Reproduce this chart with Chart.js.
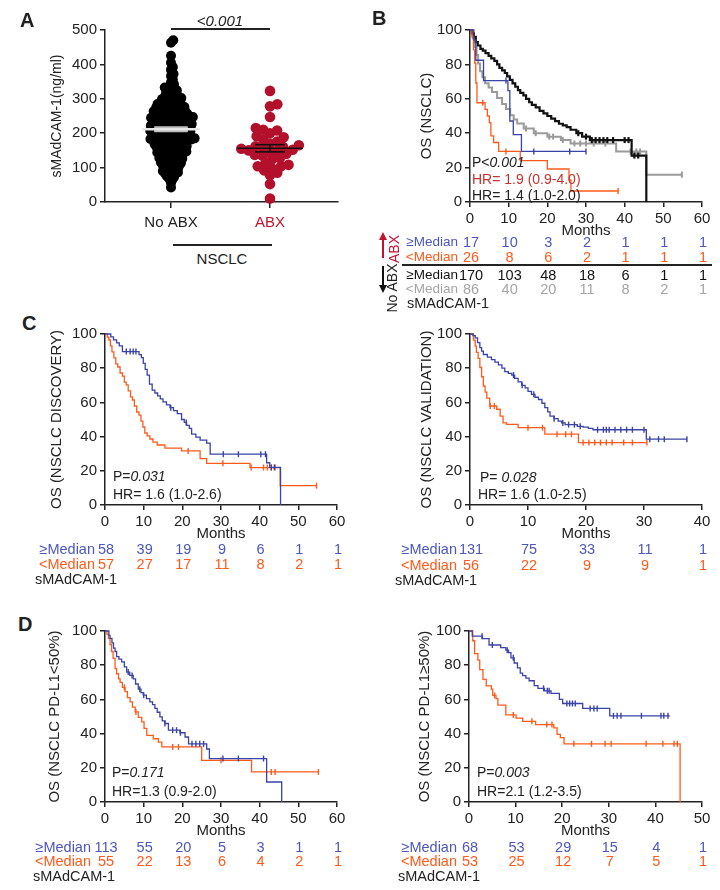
<!DOCTYPE html>
<html><head><meta charset="utf-8">
<script src="https://cdn.jsdelivr.net/npm/chart.js@4.4.0/dist/chart.umd.min.js"></script>
<style>
html,body{margin:0;padding:0;background:#fff;}
#root{position:relative;width:720px;height:890px;overflow:hidden;font-family:"Liberation Sans",Arial,sans-serif;background:#fff;}
canvas{position:absolute;}
.t{position:absolute;white-space:nowrap;line-height:1;color:#222;}
</style></head><body><div id="root"></div>
<script>
// ---------------- DATA ----------------
// Panel A: sMAdCAM-1 (ng/ml)
const A_categories = ['No ABX', 'ABX'];
const A_noABX = [470,463,425,405,392,384,372,366,356,348,342,338,333,330,327,325,322,
318,316,314,312,310,308,306,304,302,300,
299,298,296,295,293,291,290,288,287,285,284,283,282,281,
279,278,277,276,275,274,273,272,271,270,269,268,267,266,265,264,263,262,261,260,
259,258,258,257,256,255,254,253,252,251,250,250,249,248,247,246,245,245,244,243,242,241,241,240,
239,239,238,237,236,235,234,234,233,232,231,230,230,229,228,227,226,225,225,224,223,222,222,221,220,220,
219,218,218,217,216,215,214,214,213,212,211,210,210,209,208,207,206,205,205,204,203,202,202,201,200,200,
199,198,197,196,195,194,193,192,191,190,190,189,188,187,186,185,184,183,182,182,181,180,180,180,
179,178,177,176,175,174,173,172,171,170,169,168,167,166,165,164,163,162,161,160,160,160,
159,157,156,154,153,151,150,149,148,147,146,145,144,143,142,141,140,140,
139,137,135,133,131,130,128,127,126,125,124,122,121,120,
118,116,115,113,112,110,108,107,105,104,102,100,
98,96,94,92,90,88,86,85,83,81,78,75,72,68,64,55,42];
const A_ABX = [323,284,278,247,215,210,208,200,191,188,181,176,170,165,162,160,158,155,152,150,148,145,140,137,135,128,125,115,108,104,104,100,92,85,78,52,10];
const A_yTicks = [0,100,200,300,400,500];

// Panel B: OS (NSCLC)
const B_noHi_t = [0,0.5,1,1.5,2,2.7,3.3,4,4.8,5.5,6.3,7,7.6,8.3,9,9.6,10.3,11,11.7,12.4,13,13.8,14.5,15.3,16,17,18,19,20,21,22,23,24,25,26,27.5,29,31,41.8,45.6];
const B_noHi_s = [100,98,96,93,91,89,88,86.5,85,83.5,82,80,78,76.5,75,73,71,69,67,65,63.5,62,60,58,56.5,55,53,51.5,50,48.5,47,45.5,44.5,43.5,42,40,38,36,27,0];
const B_noHi_cens = [28,30,31.5,32.5,33.5,34.5,35.5,37,40,41,42.5,43.5];
const B_noLo_t = [0,0.7,1.2,1.7,2.1,2.6,3.2,3.9,4.8,5.7,7,8.3,9.3,10.4,11.3,12.2,13.9,16.5,20,23.5,26,37.8,45.6];
const B_noLo_s = [100,95,90,85.5,80.5,76,72.5,69,66.5,64,60.5,57,54,50.5,48,45.6,42.7,40,38,36,34,29.4,15.9];
const B_noLo_end = 54.8;
const B_noLo_cens = [14.5,17,20.5,21.5,24,27,28.5,30,32,35,41.5,43,44,54.8];
const B_abxHi_t = [0,1.0,1.5,3.5,9.8,10.3,11.2,13.3];
const B_abxHi_s = [100,94.1,82.4,70.6,64.7,47.1,39.2,29.4];
const B_abxHi_end = 30;
const B_abxHi_cens = [9.3,16.5,25.8,30];
const B_abxLo_t = [0,0.5,0.9,1.2,1.5,1.8,3.9,4.5,5.0,5.4,6.1,7.4,13.0,20.0,25.6,26.1];
const B_abxLo_s = [100,96.2,88.5,80.8,69.2,57.7,53.8,50,46.2,38.5,34.6,29.4,24,19.2,12.8,6.4];
const B_abxLo_end = 38.3;
const B_abxLo_cens = [3.3,9.3,38.3];
const B_months = [0,10,20,30,40,50,60];
const B_risk_abxHi = [17,10,3,2,1,1,1];
const B_risk_abxLo = [26,8,6,2,1,1,1];
const B_risk_noHi = [170,103,48,18,6,1,1];
const B_risk_noLo = [86,40,20,11,8,2,1];

// Panel C (discovery)
const C1_hi_t = [0,1.5,2.2,3,3.7,4.5,8.8,9.4,9.9,10.4,10.9,11.5,12.2,12.9,13.6,14.3,15,15.9,16.8,17.7,18.7,19.8,20.5,21.1,21.8,22.4,23.5,24.6,26.3,27.2,41.8,42.6,45.4];
const C1_hi_s = [100,98.3,96.6,94.8,93.1,89.7,87.9,86.2,82.8,79.3,75.9,70.7,67.2,65.5,63.8,62.1,60.3,58.6,56.9,55.2,53.4,50,48.3,46.6,44.8,41.4,39.7,37.9,36.2,29.7,24.7,22,0];
const C1_hi_cens = [5.5,6.5,7.3,8,17,21,30.6,34.5,40.3,41.5,43,43.8];
const C1_lo_t = [0,0.6,1.0,1.4,1.8,2.3,2.8,3.3,3.9,4.5,5.0,5.5,6.0,6.6,7.1,7.6,8.2,8.8,9.3,9.8,10.3,10.9,11.6,12.4,13.5,15.5,19.8,24.6,26.3,37.5,45.3];
const C1_lo_s = [100,98.2,96.5,93,89.5,86,82.5,80.7,77.2,75.4,71.9,70.2,66.7,63.2,61.4,57.9,54.4,52.6,49.1,45.6,42.1,40.4,38.6,36.8,35.1,33.3,31.6,27.1,24.4,21.9,11.3];
const C1_lo_end = 54.7;
const C1_lo_cens = [21.5,30.5,37.8,41,42,43,44,54.7];
const C1_months = [0,10,20,30,40,50,60];
const C1_risk_hi = [58,39,19,9,6,1,1];
const C1_risk_lo = [57,27,17,11,8,2,1];

// Panel C (validation)
const C2_hi_t = [0,0.5,0.9,1.3,1.7,2.0,2.3,3.0,3.7,4.3,4.9,5.5,6.0,6.6,7.2,7.7,8.3,8.9,9.5,10.0,10.6,11.2,11.8,12.4,12.9,13.4,13.8,14.5,15.2,15.8,16.4,18.5,19.5,20.4,21.2,30.4];
const C2_hi_s = [100,99,97.7,95,92,90,88,86.5,85,83.5,82,80,78,77,76,74,72,70,68.5,66.5,64.7,63,61.7,59.5,57,54.5,52,50.5,49,48,47,46,45.5,44.8,44,38.5];
const C2_hi_end = 37.4;
const C2_hi_cens = [7.5,9,11,14.5,16,17,18,19,22,23,23.5,24,25,26,27,28,30,31,32.5,33.5,37.4];
const C2_lo_t = [0,0.6,0.9,1.1,1.4,1.7,2.0,2.3,2.6,2.9,3.4,4.6,5.2,5.7,6.3,8.3,12.9,18.7];
const C2_lo_s = [100,96.4,92.9,89.3,85.7,80.4,75,69.6,66,62.5,57.9,56,52,48,47.2,45.2,41.4,36.5];
const C2_lo_end = 30.5;
const C2_lo_cens = [3.5,4.2,10,12.5,15,16.5,17.5,19.5,20.5,21.5,22.5,23.5,24.5,26.5,28,30.5];
const C2_months = [0,10,20,30,40];
const C2_risk_hi = [131,75,33,11,1];
const C2_risk_lo = [56,22,9,9,1];

// Panel D (PD-L1 <50%)
const D1_hi_t = [0,1.0,1.3,1.8,2.2,2.6,3.0,3.6,4.3,5.0,5.6,6.4,7.3,7.9,8.6,9.3,9.9,10.7,11.6,12.3,12.9,13.5,14.2,14.8,15.5,16.4,19.4,20.7,21.6,26.3,27.0,41.8,45.7];
const D1_hi_s = [100,97.5,95.7,93,90,88,85,83.5,82,79,76,74,72,69,66,64,62.5,60.5,58.6,57,54.7,52.5,49.8,47.5,45.9,42,40.5,38,34,31,25.4,11.7,0];
const D1_hi_cens = [6,7,9,10,15.5,17.5,18.5,19.5,22.5,23.5,24.5,25.5,30.5,34.5,41];
const D1_lo_t = [0,0.5,0.9,1.3,1.7,2.1,2.6,3.0,3.5,3.9,4.5,5.2,5.8,6.5,7.1,7.8,8.6,9.5,10.1,10.8,12.5,13.8,14.7,25.0,37.9];
const D1_lo_s = [100,98.2,95.7,92,88,84,78,75,72,70,67,64.5,61,58.6,55.5,52.7,49.5,46.9,43,39,37,35,32.2,24.4,17.6];
const D1_lo_end = 55.2;
const D1_lo_cens = [5,8,17.5,19,30,43,44,55.2];
const D1_months = [0,10,20,30,40,50,60];
const D1_risk_hi = [113,55,20,5,3,1,1];
const D1_risk_lo = [55,22,13,6,4,2,1];

// Panel D (PD-L1 >=50%)
const D2_hi_t = [0,0.7,2.9,4.3,6.8,7.9,8.5,9.0,9.7,10.4,11.0,11.5,12.2,12.9,14.0,14.8,16.2,17.6,19.4,20.1,24.4,30.2];
const D2_hi_s = [100,97,95.5,91.8,90.3,88.8,87.3,84.3,81.3,78.4,75.4,73.9,72.4,70.9,68,66.5,65,63.5,60,57.6,54.7,50.4];
const D2_hi_end = 43.1;
const D2_hi_cens = [2.8,5,8.2,9.5,16,16.8,17.2,21,21.6,22.2,22.8,26,26.8,27.5,31,31.8,32.6,37,41.2,41.8,42.7];
const D2_lo_t = [0,0.8,1.2,1.9,2.3,3.0,3.7,4.8,5.1,5.8,6.2,7.9,10.1,11.5,14.3,18.2,18.9,19.6,20.4,45.3];
const D2_lo_s = [100,94.3,86.8,83,77.4,71.7,67.9,66,62.3,60.4,56.6,50.9,49,47.2,45.3,43.4,39.6,37.7,34,0];
const D2_lo_cens = [5.5,9.5,13.5,16.7,17.8,22.5,26.3,29.2,30.5,38,41.6,44,44.7];
const D2_months = [0,10,20,30,40,50];
const D2_risk_hi = [68,53,29,15,4,1];
const D2_risk_lo = [53,25,12,7,5,1];

// ---------------- STYLE ----------------
const FONT = '"Liberation Sans", Arial, sans-serif';
const BLUE = '#3a43a6', ORANGE = '#ff5a1a', GREY = '#9a9a9a', BLACK = '#111';
const BLUE_TXT = '#4c57bd', RED_DOT = '#b3102c', RED_TXT = '#c0142f', HR_RED = '#c8322e';
Chart.defaults.font.family = FONT;
Chart.defaults.color = '#222';
const root = document.getElementById('root');

function put(html, x, y, o = {}) {
  const d = document.createElement('div');
  d.className = 't';
  d.innerHTML = html;
  const ax = o.align === 'center' ? -50 : o.align === 'right' ? -100 : 0;
  d.style.left = x + 'px'; d.style.top = y + 'px';
  d.style.fontSize = (o.size || 14) + 'px';
  if (o.color) d.style.color = o.color;
  if (o.weight) d.style.fontWeight = o.weight;
  if (o.family) d.style.fontFamily = o.family;
  if (o.italic) d.style.fontStyle = 'italic';
  d.style.transform = `translate(${ax}%,-50%)` + (o.rotate ? ` rotate(${o.rotate}deg)` : '');
  root.appendChild(d);
  return d;
}
function hline(x1, x2, y, color = '#222', w = 1.3) {
  const d = document.createElement('div');
  d.style.cssText = `position:absolute;left:${x1}px;top:${y - w / 2}px;width:${x2 - x1}px;height:${w}px;background:${color};`;
  root.appendChild(d);
}
function makeCanvas(L, T, W, H) {
  const c = document.createElement('canvas');
  c.width = W; c.height = H;
  c.style.left = L + 'px'; c.style.top = T + 'px';
  c.style.width = W + 'px'; c.style.height = H + 'px';
  root.appendChild(c);
  return c;
}
const axisBase = () => ({
  border: { display: true, color: '#222', width: 1.5 },
  grid: { drawOnChartArea: false, drawTicks: true, tickLength: 5, color: '#222', lineWidth: 1.5 },
});

function stepData(t, s, end) {
  const n = Math.min(t.length, s.length);
  const pts = [];
  for (let i = 0; i < n; i++) pts.push({ x: t[i], y: s[i] });
  if (end !== undefined && end > t[n - 1]) pts.push({ x: end, y: s[n - 1] });
  return pts;
}
function survAt(t, s, x) {
  let v = 100;
  for (let i = 0; i < Math.min(t.length, s.length); i++) if (t[i] <= x) v = s[i];
  return v;
}

function km(box, xmax, title, curves) {
  const L = box.titleX - 9, T = box.plotT - 12, R = box.plotR + 16, B = box.plotB + 30;
  const c = makeCanvas(L, T, R - L, B - T);
  const datasets = [];
  curves.forEach(cv => {
    datasets.push({ data: stepData(cv.t, cv.s, cv.end), borderColor: cv.color, borderWidth: cv.w || 1.3,
      pointRadius: 0, stepped: 'before', fill: false, clip: 8, tension: 0 });
    datasets.push({ data: (cv.cens || []).map(x => ({ x, y: survAt(cv.t, cv.s, x) })), showLine: false,
      pointStyle: 'line', rotation: 90, pointRadius: 3, borderColor: cv.color, pointBorderColor: cv.color,
      pointBorderWidth: cv.w ? cv.w : 1.4, clip: 8 });
  });
  const chart = new Chart(c, {
    type: 'line', data: { datasets },
    options: {
      responsive: false, animation: false, events: [],
      layout: { padding: { left: 0, top: box.plotT - T, right: R - box.plotR, bottom: 0 } },
      plugins: { legend: { display: false }, tooltip: { enabled: false } },
      scales: {
        x: Object.assign(axisBase(), { type: 'linear', min: 0, max: xmax,
          ticks: { stepSize: 10, font: { size: 15 }, color: '#222', padding: 3, maxRotation: 0, autoSkip: false },
          afterFit: s => { s.height = B - box.plotB; } }),
        y: Object.assign(axisBase(), { type: 'linear', min: 0, max: 100,
          ticks: { stepSize: 20, font: { size: 15 }, color: '#222', padding: 3 },
          title: { display: true, text: title, font: { size: 15 }, color: '#222', padding: { top: 0, bottom: 0 } },
          afterFit: s => { s.width = box.plotL - L; } })
      }
    }
  });
  put('Months', (box.plotL + box.plotR) / 2, box.plotB + 27, { align: 'center', size: 15 });
  return { chart, L, T, px: v => L + chart.scales.x.getPixelForValue(v) };
}

function riskRow(k, months, vals, y, label, color, labelRight, lsize) {
  put(label, labelRight, y, { align: 'right', size: lsize || 14.5, color });
  months.forEach((m, i) => put(String(vals[i]), k.px(m) + 1, y, { align: 'center', size: 14.5, color }));
}

// ---------------- PANEL A ----------------
(function () {
  const box = { plotL: 105, plotT: 30, plotR: 338, plotB: 202, titleX: 58 };
  const PPX = 99;               // px per category unit
  const PXY = (box.plotB - box.plotT) / 500;
  const xmin = (box.plotL - 171) / PPX, xmax = (box.plotR - 171) / PPX;
  function swarm(vals, d) {
    const idx = vals.map((v, i) => i).sort((a, b) => vals[a] - vals[b]);
    const placed = [], out = new Array(vals.length);
    for (const i of idx) {
      const y = vals[i] * PXY;
      const near = placed.filter(p => Math.abs(p.y - y) < d);
      const cands = [0];
      near.forEach(p => { const dx = Math.sqrt(d * d - (p.y - y) ** 2); cands.push(p.x + dx, p.x - dx); });
      cands.sort((a, b) => Math.abs(a) - Math.abs(b));
      let best = 0;
      for (const c of cands) { if (near.every(p => (p.x - c) ** 2 + (p.y - y) ** 2 >= d * d - 1e-6)) { best = c; break; } }
      placed.push({ x: best, y }); out[i] = best;
    }
    return out;
  }
  function meanSem(a) {
    const m = a.reduce((s, v) => s + v, 0) / a.length;
    const sd = Math.sqrt(a.reduce((s, v) => s + (v - m) ** 2, 0) / (a.length - 1));
    return [m, sd / Math.sqrt(a.length)];
  }
  const offB = swarm(A_noABX, 3.3), offR = swarm(A_ABX, 7.6);
  const ptsB = A_noABX.map((v, i) => ({ x: 0 + offB[i] / PPX, y: v }));
  const ptsR = A_ABX.map((v, i) => ({ x: 1 + offR[i] / PPX, y: v }));
  const [mB, sB] = meanSem(A_noABX), [mR, sR] = meanSem(A_ABX);
  const seg = (x1, x2, y1, y2, color, w) => ({ data: [{ x: x1, y: y1 }, { x: x2, y: y2 }], showLine: true,
    borderColor: color, borderWidth: w, pointRadius: 0, clip: 8 });
  const L = box.titleX - 9, T = box.plotT - 12, R = box.plotR + 16, B = box.plotB + 40;
  const c = makeCanvas(L, T, R - L, B - T);
  new Chart(c, {
    type: 'scatter',
    data: { datasets: [
      seg(-0.29, 0.29, mB, mB, '#e6e6e6', 2.5),
      seg(-0.17, 0.17, mB + sB, mB + sB, '#bdbdbd', 2.5),
      seg(-0.17, 0.17, mB - sB, mB - sB, '#bdbdbd', 2.5),
      seg(0, 0, mB - sB, mB + sB, '#bdbdbd', 2),
      seg(1 - 0.33, 1 + 0.33, mR, mR, '#111', 1.6),
      seg(1 - 0.15, 1 + 0.15, mR + sR, mR + sR, '#111', 1.6),
      seg(1 - 0.15, 1 + 0.15, mR - sR, mR - sR, '#111', 1.6),
      seg(1, 1, mR - sR, mR + sR, '#111', 1.6),
      { data: ptsR, pointRadius: 5.3, backgroundColor: RED_DOT, borderWidth: 0, clip: 8 },
      { data: ptsB, pointRadius: 5, backgroundColor: '#000', borderWidth: 0, clip: 8 },
    ] },
    options: {
      responsive: false, animation: false, events: [],
      layout: { padding: { left: 0, top: box.plotT - T, right: R - box.plotR, bottom: 0 } },
      plugins: { legend: { display: false }, tooltip: { enabled: false } },
      scales: {
        x: Object.assign(axisBase(), { type: 'linear', min: xmin, max: xmax,
          grid: { drawOnChartArea: false, drawTicks: true, tickLength: 6, color: '#222', lineWidth: 1.5 },
          afterBuildTicks: s => { s.ticks = A_categories.map((c, i) => ({ value: i })); },
          ticks: { font: { size: 15 }, padding: 6, maxRotation: 0, autoSkip: false,
            callback: v => A_categories[v],
            color: ctx => (ctx.tick && ctx.tick.value === 1) ? RED_TXT : '#222' },
          afterFit: s => { s.height = B - box.plotB; } }),
        y: Object.assign(axisBase(), { type: 'linear', min: 0, max: 500,
          afterBuildTicks: s => { s.ticks = A_yTicks.map(v => ({ value: v })); },
          ticks: { font: { size: 15 }, color: '#222', padding: 3 },
          title: { display: true, text: 'sMAdCAM-1(ng/ml)', font: { size: 14 }, color: '#222', padding: { top: 0, bottom: 0 } },
          afterFit: s => { s.width = box.plotL - L; } })
      }
    }
  });
  hline(171, 270, 29, '#222', 1.3);
  put('&lt;0.001', 220, 20, { align: 'center', size: 15, italic: true });
  hline(173, 272, 245, '#222', 1.3);
  put('NSCLC', 222, 258, { align: 'center', size: 15 });
})();

// ---------------- PANEL B ----------------
(function () {
  const box = { plotL: 470, plotT: 30, plotR: 702, plotB: 202, titleX: 427 };
  const k = km(box, 60, 'OS (NSCLC)', [
    { t: B_abxHi_t, s: B_abxHi_s, end: B_abxHi_end, cens: B_abxHi_cens, color: BLUE },
    { t: B_abxLo_t, s: B_abxLo_s, end: B_abxLo_end, cens: B_abxLo_cens, color: ORANGE },
    { t: B_noHi_t, s: B_noHi_s, cens: B_noHi_cens, color: BLACK, w: 2.2 },
    { t: B_noLo_t, s: B_noLo_s, end: B_noLo_end, cens: B_noLo_cens, color: GREY, w: 2 },
  ]);
  put('P&lt;<i>0.001</i>', 472, 162, { size: 14 });
  put('HR= 1.9 (0.9-4.0)', 472, 179, { size: 14, color: HR_RED });
  put('HR= 1.4 (1.0-2.0)', 472, 195, { size: 14 });
  const lab = 458;
  riskRow(k, B_months, B_risk_abxHi, 242, '≥Median', BLUE_TXT, lab, 13.5);
  riskRow(k, B_months, B_risk_abxLo, 257, '&lt;Median', ORANGE, lab, 13.5);
  hline(402, 712, 265, '#222', 1.2);
  riskRow(k, B_months, B_risk_noHi, 275, '≥Median', '#111', lab, 13.5);
  riskRow(k, B_months, B_risk_noLo, 289, '&lt;Median', '#a5a5a5', lab, 13.5);
  put('sMAdCAM-1', 407, 303, { size: 14.5 });
  // arrows
  const svg = document.createElementNS('http://www.w3.org/2000/svg', 'svg');
  svg.setAttribute('width', 30); svg.setAttribute('height', 80);
  svg.style.cssText = 'position:absolute;left:370px;top:228px;';
  svg.innerHTML = '<line x1="13" y1="30" x2="13" y2="10" stroke="#c0142f" stroke-width="2"/>' +
    '<polygon points="13,4 9,12 17,12" fill="#c0142f"/>' +
    '<line x1="13" y1="38" x2="13" y2="58" stroke="#111" stroke-width="2"/>' +
    '<polygon points="13,65 9,57 17,57" fill="#111"/>';
  root.appendChild(svg);
  put('ABX', 394, 249, { align: 'center', size: 14, color: RED_TXT, rotate: -90 });
  put('No ABX', 392, 288, { align: 'center', size: 14, rotate: -90 });
})();

// ---------------- PANEL C ----------------
(function () {
  const box = { plotL: 105, plotT: 334, plotR: 337, plotB: 505, titleX: 57 };
  const k = km(box, 60, 'OS (NSCLC DISCOVERY)', [
    { t: C1_hi_t, s: C1_hi_s, cens: C1_hi_cens, color: BLUE },
    { t: C1_lo_t, s: C1_lo_s, end: C1_lo_end, cens: C1_lo_cens, color: ORANGE },
  ]);
  put('P=<i>0.031</i>', 113, 476, { size: 14 });
  put('HR= 1.6 (1.0-2.6)', 113, 494, { size: 14 });
  riskRow(k, C1_months, C1_risk_hi, 549, '≥Median', BLUE_TXT, 95);
  riskRow(k, C1_months, C1_risk_lo, 564, '&lt;Median', ORANGE, 95);
  put('sMAdCAM-1', 35, 579, { size: 14.5 });
})();
(function () {
  const box = { plotL: 470, plotT: 334, plotR: 702, plotB: 505, titleX: 427 };
  const k = km(box, 40, 'OS (NSCLC VALIDATION)', [
    { t: C2_hi_t, s: C2_hi_s, end: C2_hi_end, cens: C2_hi_cens, color: BLUE },
    { t: C2_lo_t, s: C2_lo_s, end: C2_lo_end, cens: C2_lo_cens, color: ORANGE },
  ]);
  put('P= <i>0.028</i>', 480, 477, { size: 14 });
  put('HR= 1.6 (1.0-2.5)', 478, 494, { size: 14 });
  riskRow(k, C2_months, C2_risk_hi, 549, '≥Median', BLUE_TXT, 457);
  riskRow(k, C2_months, C2_risk_lo, 565, '&lt;Median', ORANGE, 457);
  put('sMAdCAM-1', 395, 580, { size: 14.5 });
})();

// ---------------- PANEL D ----------------
(function () {
  const box = { plotL: 105, plotT: 631, plotR: 337, plotB: 802, titleX: 55 };
  const k = km(box, 60, 'OS (NSCLC PD-L1<50%)', [
    { t: D1_hi_t, s: D1_hi_s, cens: D1_hi_cens, color: BLUE },
    { t: D1_lo_t, s: D1_lo_s, end: D1_lo_end, cens: D1_lo_cens, color: ORANGE },
  ]);
  put('P=<i>0.171</i>', 112, 772, { size: 14 });
  put('HR=1.3 (0.9-2.0)', 112, 791, { size: 14 });
  riskRow(k, D1_months, D1_risk_hi, 847, '≥Median', BLUE_TXT, 91);
  riskRow(k, D1_months, D1_risk_lo, 861, '&lt;Median', ORANGE, 91);
  put('sMAdCAM-1', 33, 876, { size: 14.5 });
})();
(function () {
  const box = { plotL: 469, plotT: 631, plotR: 702, plotB: 802, titleX: 425 };
  const k = km(box, 50, 'OS (NSCLC PD-L1≥50%)', [
    { t: D2_hi_t, s: D2_hi_s, end: D2_hi_end, cens: D2_hi_cens, color: BLUE },
    { t: D2_lo_t, s: D2_lo_s, cens: D2_lo_cens, color: ORANGE },
  ]);
  put('P=<i>0.003</i>', 477, 772, { size: 14 });
  put('HR=2.1 (1.2-3.5)', 477, 791, { size: 14 });
  riskRow(k, D2_months, D2_risk_hi, 847, '≥Median', BLUE_TXT, 457);
  riskRow(k, D2_months, D2_risk_lo, 861, '&lt;Median', ORANGE, 457);
  put('sMAdCAM-1', 398, 876, { size: 14.5 });
})();

// panel letters
const LF = '"Liberation Sans Narrow","Liberation Sans",Arial,sans-serif';
put('A', 20, 20, { size: 20, weight: 'bold', family: LF });
put('B', 372, 18, { size: 20, weight: 'bold', family: LF });
put('C', 22, 323, { size: 20, weight: 'bold', family: LF });
put('D', 18, 624, { size: 20, weight: 'bold', family: LF });
</script></body></html>
